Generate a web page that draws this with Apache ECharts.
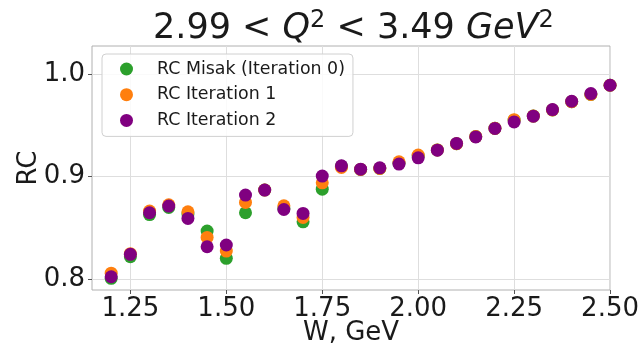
<!DOCTYPE html>
<html>
<head>
<meta charset="utf-8">
<script src="https://cdn.jsdelivr.net/npm/echarts@6/dist/echarts.min.js"></script>
<style>html,body{margin:0;padding:0;background:#fff;}#c{width:642px;height:351px;}</style>
</head>
<body>
<div id="c"></div>
<script>
var W = [1.20,1.25,1.30,1.35,1.40,1.45,1.50,1.55,1.60,1.65,1.70,1.75,1.80,1.85,1.90,1.95,2.00,2.05,2.10,2.15,2.20,2.25,2.30,2.35,2.40,2.45,2.50];
var rcMisak = [0.801,0.822,0.863,0.870,0.8635,0.847,0.8204,0.8648,0.887,0.869,0.856,0.8878,0.910,0.907,0.908,0.913,0.920,0.926,0.932,0.939,0.947,0.955,0.959,0.965,0.973,0.980,0.989];
var rcIter1 = [0.806,0.825,0.8665,0.8726,0.8658,0.8408,0.8275,0.8749,0.887,0.8716,0.8603,0.894,0.909,0.907,0.908,0.9144,0.921,0.926,0.932,0.939,0.947,0.9555,0.959,0.965,0.973,0.980,0.989];
var rcIter2 = [0.8025,0.8243,0.8648,0.8713,0.8593,0.8317,0.8334,0.882,0.8869,0.868,0.8642,0.9005,0.9105,0.9073,0.9086,0.9122,0.9183,0.9258,0.9323,0.9387,0.9469,0.9533,0.9589,0.9653,0.9734,0.9809,0.989];
var xTicks = [1.25,1.50,1.75,2.00,2.25,2.50];
var yTicks = [0.8,0.9,1.0];
var seriesNames = ['RC Misak (Iteration 0)','RC Iteration 1','RC Iteration 2'];
var colors = ['#2ca02c','#ff7f0e','#800080'];

function pairs(ys){ return W.map(function(w,i){ return [w, ys[i]]; }); }
var FONT = 'DejaVu Sans';
var chart = echarts.init(document.getElementById('c'), null, {renderer:'canvas'});
chart.setOption({
  animation:false,
  backgroundColor:'#fff',
  title:{
    text:'2.99 < {i|Q}{s|2} < 3.49 {i|GeV}{s|2}',
    left:148, top:4,
    textStyle:{fontFamily:FONT,fontSize:35,fontWeight:'normal',color:'#1a1a1a',
      rich:{
        i:{fontFamily:FONT,fontSize:35,fontStyle:'italic',color:'#1a1a1a'},
        s:{fontFamily:FONT,fontSize:24,color:'#1a1a1a',padding:[0,0,16,0]}
      }}
  },
  grid:{left:92,top:46,right:31,bottom:61,show:true,borderColor:'#b0b0b0',borderWidth:1,backgroundColor:'transparent'},
  legend:{
    orient:'vertical', left:102, top:54,
    padding:[5,8,6,18],
    itemWidth:13,itemHeight:13,itemGap:5.7,
    icon:'circle',
    backgroundColor:'rgba(255,255,255,0.85)',
    borderColor:'#d0d0d0',borderWidth:1,borderRadius:4,
    textStyle:{fontFamily:FONT,fontSize:17.4,color:'#1a1a1a',lineHeight:20,padding:[0,0,0,19]},
    data:seriesNames
  },
  xAxis:{
    type:'value', min:1.15, max:2.5,
    name:'W, GeV', nameLocation:'middle', nameGap:30, nameMoveOverlap:false,
    nameTextStyle:{fontFamily:FONT,fontSize:26,color:'#1a1a1a'},
    axisLine:{show:false},
    axisTick:{show:true,length:4,customValues:xTicks,lineStyle:{color:'#555'}},
    axisLabel:{customValues:xTicks,fontFamily:FONT,fontSize:26,color:'#1a1a1a',margin:6,
      formatter:function(v){return v.toFixed(2);}},
    splitLine:{show:true,lineStyle:{color:'#dedede',width:1}}
  },
  yAxis:{
    type:'value', min:0.7896, max:1.0272,
    name:'RC', nameLocation:'middle', nameGap:50, nameMoveOverlap:false,
    nameTextStyle:{fontFamily:FONT,fontSize:26,color:'#1a1a1a'},
    axisLine:{show:false},
    axisTick:{show:true,length:4,customValues:yTicks,lineStyle:{color:'#555'}},
    axisLabel:{customValues:yTicks,fontFamily:FONT,fontSize:26,color:'#1a1a1a',margin:7,
      formatter:function(v){return v.toFixed(1);}},
    splitLine:{show:true,lineStyle:{color:'#dedede',width:1}}
  },
  series:[
    {name:seriesNames[0],type:'scatter',data:pairs(rcMisak),symbolSize:13,itemStyle:{color:colors[0],opacity:1},z:2},
    {name:seriesNames[1],type:'scatter',data:pairs(rcIter1),symbolSize:13,itemStyle:{color:colors[1],opacity:1},z:3},
    {name:seriesNames[2],type:'scatter',data:pairs(rcIter2),symbolSize:13,itemStyle:{color:colors[2],opacity:1},z:4}
  ]
});
</script>
</body>
</html>
